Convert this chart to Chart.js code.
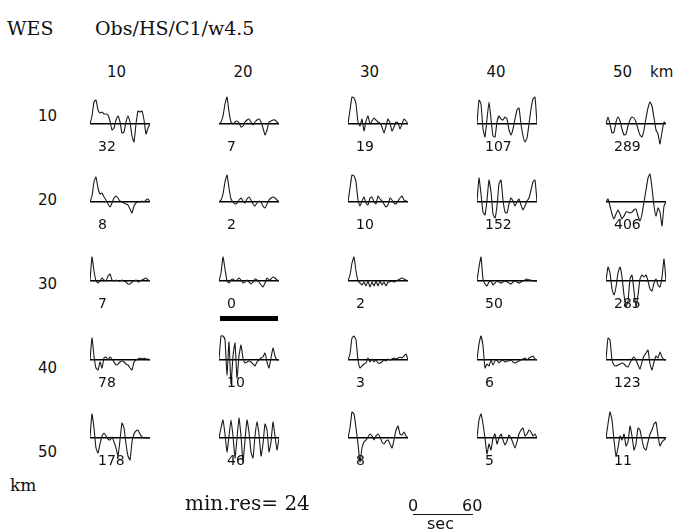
<!DOCTYPE html>
<html><head><meta charset="utf-8">
<script src="https://cdn.jsdelivr.net/npm/chart.js@4"></script>
<style>
body{margin:0;background:#fff;width:692px;height:531px;overflow:hidden;position:relative;font-family:'DejaVu Sans',sans-serif;color:#111}
.t{position:absolute;white-space:nowrap;line-height:1;transform:translateY(-50%)}
.serif{font-family:'DejaVu Serif',serif}
canvas{position:absolute}
</style></head><body>
<script>
// ---- data ----
const T = [0,2,4,6,8,10,12,14,16,18,20,22,24,26,28,30,32,34,36,38,40,42,44,46,48,50,52,54,56,58,60]; // sec
const distKm = [10,20,30,40,50];
const minRes = 24;
const resRow10 = [32,7,19,107,289];
const resRow20 = [8,2,10,152,406];
const resRow30 = [7,0,2,50,285];
const resRow40 = [78,10,3,6,123];
const resRow50 = [178,46,8,5,11];

const wavesRow10 = [
 [0,8,22,24,14,11,12,10,10,9,3,-6,-4,4,8,2,-9,-8,2,8,2,-12,-18,0,13,12,13,4,-10,-4,0],
 [0,2,8,20,27,12,2,0,2,3,1,-3,-2,2,4,5,2,-1,2,4,5,2,-4,-11,-6,2,3,4,4,2,0],
 [0,14,27,26,20,2,-2,5,-7,3,8,0,3,6,4,2,1,-3,-9,-2,5,1,-7,-3,2,1,-5,0,5,3,0],
 [0,24,20,-5,-13,5,22,5,-12,-13,2,8,5,4,7,5,-6,-11,-5,5,14,16,0,-12,-18,-14,0,15,25,27,0],
 [0,7,0,-9,-8,2,7,3,-5,-11,-10,-2,4,7,6,2,-5,-11,-13,-6,6,16,22,18,6,-6,-10,-20,-8,2,0]
];
const wavesRow20 = [
 [0,6,20,25,14,8,9,5,2,-2,-5,-1,4,6,4,1,0,-1,-2,-3,-7,-11,-4,-1,0,0,1,0,2,3,0],
 [0,2,8,20,27,14,3,0,-2,-1,2,4,1,-1,3,5,2,-2,-4,-1,1,0,-4,-6,-2,2,4,5,4,2,0],
 [0,14,27,26,20,2,-4,1,5,-1,-3,4,5,0,-2,6,3,1,-2,-5,-3,4,2,-1,-2,1,4,6,2,1,0],
 [0,24,8,-10,-13,2,22,10,-12,-16,-4,18,22,2,-10,-11,-2,4,1,-4,0,3,-3,-8,-4,1,4,12,20,22,0],
 [0,3,-4,-12,-17,-12,-8,-12,-17,-14,-10,-10,-11,-10,-8,-7,-14,-19,-12,0,12,24,28,14,-4,-14,-6,-10,-24,-4,0]
];
const wavesRow30 = [
 [0,24,10,0,-2,0,3,1,0,5,7,1,0,1,0,0,1,0,-1,-3,-3,-1,0,1,-1,0,1,2,3,1,0],
 [0,8,24,12,0,-2,1,2,0,1,3,1,-2,-1,1,-1,-3,-1,2,1,-1,-4,-6,-2,3,1,2,4,3,1,0],
 [0,6,18,24,10,0,-2,-4,-1,-5,0,-6,-1,-5,0,-5,0,-4,-1,-5,-1,-1,0,-1,0,1,2,3,2,1,0],
 [0,14,24,2,-3,-5,-1,0,-4,-2,0,-1,-2,-1,0,-1,-2,-3,-1,0,-1,-2,-1,0,1,2,1,1,0,0,0],
 [0,14,8,-8,-14,-6,8,14,4,-14,-26,-20,2,6,-10,-26,-14,2,6,4,6,0,-8,-10,-2,2,-4,-6,4,22,0]
];
const wavesRow40 = [
 [0,22,4,-8,-10,-2,-8,2,3,0,3,1,-2,-5,-4,-2,-1,-2,-4,-5,-8,-10,-2,0,1,2,1,2,1,1,0],
 [0,24,24,20,-15,18,-24,4,17,-18,4,15,2,-3,-2,-1,-2,-4,-6,-2,0,2,3,7,-2,-8,2,12,4,0,0],
 [0,6,22,24,20,0,-8,-6,-4,-3,2,-2,1,-2,0,-3,-3,-2,0,-1,1,0,1,2,1,2,3,2,4,6,0],
 [0,16,24,14,-8,-4,-6,0,-5,-1,0,-3,-1,0,-2,-1,-1,0,-2,-3,-2,-1,0,1,2,0,2,3,4,1,0],
 [0,22,20,0,-5,-6,-5,-4,-3,-4,-6,-7,-3,1,3,0,-5,-9,-2,4,7,10,-4,-10,-2,4,2,8,3,0,0]
];
const wavesRow50 = [
 [0,24,10,-10,-15,-6,2,5,2,-1,-2,1,-4,-10,-18,-2,15,10,-6,-18,-22,-4,4,7,8,4,1,0,0,0,0],
 [0,10,18,4,-14,2,18,2,-20,0,20,2,-24,-2,18,6,-14,-20,2,16,4,-18,-6,14,8,-14,-4,16,2,-12,0],
 [0,10,26,24,10,-6,-24,-10,-4,-2,1,4,2,-2,2,4,1,-4,-6,-3,-2,-6,-10,-2,8,12,4,3,6,2,0],
 [0,18,24,14,0,-16,-6,-12,0,4,-6,0,4,-2,-7,-3,3,0,-5,-10,-4,4,8,10,2,4,8,6,2,4,0],
 [0,14,26,18,-2,-18,-10,2,-2,4,-8,-4,12,2,-12,-6,10,8,-2,-10,-12,-4,4,8,14,16,2,-8,-4,-2,0]
];

// ---- layout ----
const waves = [wavesRow10, wavesRow20, wavesRow30, wavesRow40, wavesRow50];
const residuals = [resRow10, resRow20, resRow30, resRow40, resRow50];
const X0 = 90, DX = 129, Y0 = 123.5, DY = 78.7, PAD = 2, HALF = 32;

function txt(s, x, y, size, cls) {
  const d = document.createElement('div');
  d.className = 't' + (cls ? ' ' + cls : '');
  d.textContent = s;
  d.style.left = x + 'px'; d.style.top = y + 'px'; d.style.fontSize = size + 'px';
  document.body.appendChild(d);
  return d;
}

txt('WES', 7, 28, 19, 'serif');
txt('Obs/HS/C1/w4.5', 95, 28, 19, 'serif');

distKm.forEach((k, i) => {
  txt(String(k), 107 + 126.5 * i, 72, 15);
  txt(String(k), 38, 116 + 84 * i, 15);
});
txt('km', 650, 72, 15);
txt('km', 10, 485, 17, 'serif');

let best = {v: Infinity, r: 0, c: 0};
waves.forEach((row, r) => row.forEach((w, c) => {
  const cv = document.createElement('canvas');
  cv.width = 60 + 2 * PAD; cv.height = 2 * HALF;
  cv.style.left = (X0 + DX * c - PAD) + 'px';
  cv.style.top = (Y0 + DY * r - HALF) + 'px';
  document.body.appendChild(cv);
  new Chart(cv, {
    type: 'line',
    data: { datasets: [{
      data: T.map((t, i) => ({x: t, y: w[i]})),
      borderColor: '#1a1a1a', borderWidth: 1.1, pointRadius: 0, tension: 0.15, fill: false
    }]},
    options: {
      responsive: false, animation: false, events: [],
      layout: { padding: { left: PAD, right: PAD, top: 0, bottom: 0 } },
      plugins: { legend: { display: false }, tooltip: { enabled: false } },
      scales: {
        x: { type: 'linear', min: 0, max: 60, display: false },
        y: { min: -HALF, max: HALF,
             ticks: { display: false, stepSize: HALF },
             grid: { drawTicks: false, lineWidth: 1.6,
                     color: ctx => (ctx.tick && ctx.tick.value === 0) ? '#000' : 'rgba(0,0,0,0)' },
             border: { display: false } }
      }
    }
  });
  const v = residuals[r][c];
  txt(String(v), X0 + DX * c + 8, Y0 + DY * r + 22, 14);
  if (v < best.v) best = {v, r, c};
}));

// best-fit marker bar
const bar = document.createElement('div');
bar.style.cssText = 'position:absolute;background:#000;height:5px;width:58px;';
bar.style.left = (X0 + DX * best.c + 1) + 'px';
bar.style.top = (Y0 + DY * best.r + 35) + 'px';
document.body.appendChild(bar);

txt('min.res= ' + minRes, 185, 503, 20, 'serif');
txt('0', 408, 506, 16);
txt('60', 462, 506, 16);
const ul = document.createElement('div');
ul.style.cssText = 'position:absolute;left:413px;top:514px;width:60px;height:1px;background:#111';
document.body.appendChild(ul);
txt('sec', 427, 524, 16);
</script>
</body></html>
